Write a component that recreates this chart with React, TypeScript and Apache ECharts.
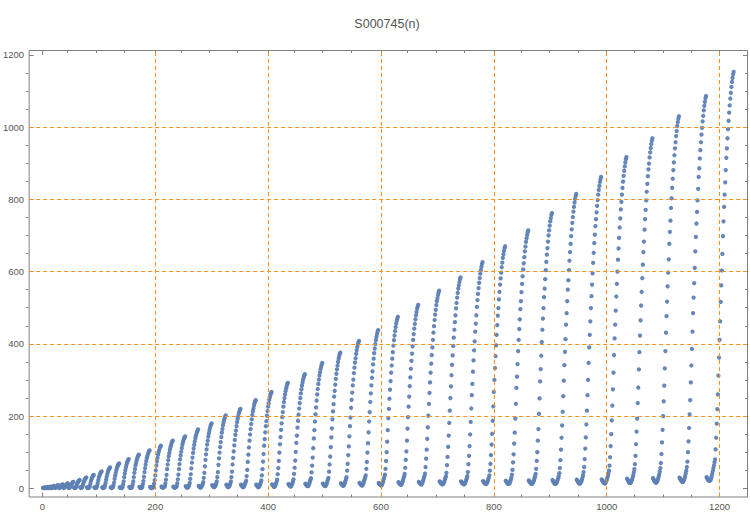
import React, { useEffect, useRef } from "react";
import * as echarts from "echarts";

// Values, one array per sweep (triangle row k has k terms)
const rows: number[][] = [
  [1],
  [1, 2],
  [1, 1, 3],
  [1, 1, 2, 4],
  [1, 1, 2, 3, 5],
  [1, 1, 2, 4, 6, 7],
  [2, 1, 2, 4, 6, 8, 9],
  [2, 1, 2, 4, 6, 8, 10, 11],
  [2, 1, 2, 4, 6, 9, 11, 13, 14],
  [2, 1, 2, 3, 6, 9, 12, 15, 17, 18],
  [2, 1, 2, 2, 5, 10, 14, 17, 20, 22, 23],
  [3, 1, 2, 2, 5, 11, 16, 20, 24, 27, 29, 30],
  [3, 1, 1, 2, 2, 6, 13, 20, 25, 29, 33, 36, 37],
  [3, 1, 1, 2, 2, 7, 14, 22, 29, 34, 39, 43, 45, 47],
  [3, 1, 1, 2, 3, 8, 15, 24, 32, 39, 45, 50, 53, 56, 58],
  [3, 1, 1, 2, 3, 8, 16, 26, 35, 43, 50, 56, 60, 64, 67, 69],
  [3, 2, 1, 1, 2, 3, 10, 19, 31, 41, 50, 58, 65, 71, 75, 79, 81],
  [4, 2, 1, 1, 2, 4, 10, 19, 31, 43, 53, 63, 70, 77, 83, 87, 91, 93],
  [4, 2, 1, 1, 2, 4, 11, 20, 32, 45, 56, 66, 75, 83, 89, 95, 99, 103, 105],
  [4, 2, 1, 1, 2, 3, 5, 13, 23, 36, 50, 63, 74, 84, 93, 100, 106, 112, 115, 118],
  [5, 3, 2, 2, 3, 4, 6, 14, 24, 37, 53, 66, 78, 89, 98, 107, 114, 120, 126, 129, 132],
  [5, 3, 2, 2, 3, 4, 6, 14, 25, 38, 53, 67, 80, 91, 101, 111, 120, 127, 133, 138, 141, 144],
  [6, 4, 2, 2, 3, 5, 8, 15, 26, 39, 55, 71, 85, 98, 110, 120, 129, 138, 145, 151, 156, 160, 163],
  [7, 5, 3, 2, 3, 5, 8, 11, 17, 29, 43, 61, 79, 94, 108, 121, 132, 143, 152, 160, 167, 173, 177, 180],
  [9, 7, 5, 3, 4, 6, 9, 13, 19, 31, 45, 65, 83, 99, 114, 128, 142, 154, 164, 174, 182, 189, 194, 199, 202],
  [10, 7, 5, 3, 4, 6, 9, 13, 19, 31, 46, 66, 84, 102, 119, 134, 148, 160, 172, 183, 192, 199, 207, 212, 217, 220],
  [10, 8, 6, 4, 3, 5, 8, 12, 16, 21, 34, 51, 73, 93, 113, 132, 149, 164, 178, 191, 203, 213, 221, 229, 236, 241, 244],
  [10, 8, 6, 4, 3, 5, 8, 12, 16, 22, 36, 53, 74, 95, 118, 136, 155, 172, 186, 201, 214, 226, 235, 245, 252, 259, 263, 267],
  [11, 9, 7, 5, 4, 6, 9, 13, 18, 24, 39, 56, 76, 99, 122, 142, 162, 180, 197, 211, 226, 239, 250, 260, 269, 277, 283, 289, 292],
  [12, 10, 8, 6, 5, 7, 10, 14, 19, 25, 40, 57, 77, 101, 126, 146, 168, 187, 204, 221, 236, 250, 263, 274, 284, 293, 301, 307, 312, 316],
  [13, 11, 9, 7, 6, 7, 10, 14, 19, 24, 28, 44, 63, 85, 111, 138, 161, 185, 205, 224, 243, 260, 275, 289, 301, 312, 321, 330, 337, 343, 347],
  [13, 11, 9, 7, 6, 7, 10, 14, 19, 25, 29, 46, 66, 88, 114, 141, 166, 191, 213, 233, 254, 270, 287, 303, 317, 329, 340, 350, 359, 366, 372, 376],
  [14, 12, 10, 8, 7, 8, 11, 15, 20, 26, 31, 49, 68, 92, 116, 144, 172, 196, 223, 245, 265, 285, 301, 319, 334, 348, 360, 372, 382, 391, 398, 404, 408],
  [15, 13, 11, 9, 8, 8, 11, 15, 20, 25, 30, 36, 54, 73, 99, 125, 155, 185, 211, 239, 263, 285, 306, 324, 343, 359, 374, 387, 399, 410, 419, 427, 434, 438],
  [15, 13, 11, 9, 8, 8, 11, 15, 20, 26, 32, 38, 54, 76, 100, 129, 161, 194, 220, 248, 273, 297, 320, 340, 359, 377, 395, 410, 423, 435, 446, 456, 464, 470, 475],
  [17, 15, 13, 11, 10, 10, 13, 17, 22, 28, 33, 40, 57, 79, 102, 132, 165, 197, 226, 254, 283, 307, 331, 353, 373, 393, 411, 427, 442, 455, 468, 479, 488, 497, 503, 508],
  [18, 16, 14, 12, 11, 11, 14, 18, 23, 29, 34, 41, 59, 82, 107, 137, 169, 201, 234, 264, 293, 320, 345, 369, 390, 411, 431, 449, 466, 481, 494, 507, 518, 526, 535, 542, 547],
  [19, 17, 15, 13, 12, 11, 12, 14, 18, 23, 28, 33, 43, 64, 87, 115, 146, 181, 215, 250, 282, 313, 342, 368, 394, 417, 439, 460, 479, 498, 513, 528, 541, 553, 562, 571, 579, 584],
  [19, 17, 15, 13, 12, 11, 12, 14, 18, 23, 28, 34, 45, 67, 90, 117, 149, 184, 221, 258, 289, 323, 354, 382, 407, 434, 456, 479, 502, 521, 538, 554, 569, 582, 594, 604, 613, 621, 626],
  [20, 18, 16, 14, 13, 12, 13, 15, 19, 24, 29, 36, 49, 68, 92, 121, 151, 187, 227, 267, 300, 333, 366, 396, 425, 452, 478, 499, 523, 544, 564, 581, 597, 612, 625, 638, 648, 657, 665, 670],
  [21, 19, 16, 14, 13, 12, 13, 15, 19, 24, 30, 38, 51, 72, 94, 124, 154, 193, 234, 278, 309, 344, 380, 411, 441, 468, 496, 518, 543, 566, 587, 606, 623, 640, 656, 669, 682, 692, 701, 709, 714],
  [22, 19, 17, 15, 13, 12, 13, 15, 18, 22, 27, 33, 40, 54, 76, 100, 132, 164, 206, 249, 296, 330, 367, 405, 439, 470, 499, 529, 553, 579, 604, 627, 647, 665, 683, 700, 714, 727, 739, 748, 757, 762],
  [23, 20, 17, 15, 13, 12, 13, 15, 18, 23, 28, 34, 42, 56, 78, 107, 140, 174, 212, 255, 298, 341, 378, 413, 453, 485, 518, 550, 576, 604, 630, 654, 677, 698, 717, 735, 751, 766, 779, 791, 801, 809, 815],
  [24, 21, 18, 16, 14, 13, 14, 16, 19, 24, 29, 36, 45, 59, 81, 110, 141, 177, 215, 258, 300, 347, 390, 425, 462, 499, 532, 564, 595, 624, 652, 679, 702, 726, 745, 764, 782, 798, 813, 826, 837, 848, 856, 862],
  [25, 22, 19, 17, 15, 14, 14, 16, 19, 23, 28, 34, 41, 49, 63, 86, 117, 150, 188, 229, 274, 320, 369, 415, 453, 492, 531, 566, 600, 633, 664, 693, 722, 747, 772, 793, 813, 832, 849, 865, 879, 891, 902, 911, 917],
  [27, 24, 21, 18, 16, 15, 15, 17, 20, 24, 30, 36, 44, 53, 67, 90, 122, 157, 193, 236, 279, 329, 377, 423, 465, 506, 544, 582, 619, 654, 683, 716, 745, 771, 797, 821, 843, 864, 883, 899, 916, 930, 942, 953, 962, 969],
  [28, 25, 22, 19, 17, 16, 16, 18, 21, 26, 32, 38, 46, 56, 70, 95, 127, 162, 200, 241, 284, 332, 380, 431, 477, 517, 559, 597, 634, 677, 710, 741, 776, 803, 832, 857, 881, 902, 922, 941, 958, 975, 989, 1003, 1014, 1023, 1030],
  [30, 27, 24, 21, 19, 18, 18, 20, 23, 28, 34, 41, 49, 59, 74, 100, 130, 167, 205, 244, 293, 340, 386, 434, 485, 528, 568, 610, 656, 696, 733, 765, 797, 829, 862, 886, 913, 936, 958, 979, 998, 1016, 1031, 1046, 1059, 1070, 1080, 1086],
  [31, 28, 25, 23, 22, 21, 21, 23, 27, 33, 40, 47, 55, 63, 72, 80, 108, 140, 179, 219, 260, 312, 362, 411, 462, 516, 562, 603, 649, 698, 739, 779, 813, 847, 881, 915, 941, 969, 994, 1017, 1040, 1060, 1079, 1095, 1111, 1125, 1136, 1146, 1153],
];

const titleText = "S000745(n)";
const xLabelValues = [0, 200, 400, 600, 800, 1000, 1200];
const yLabelValues = [0, 200, 400, 600, 800, 1000, 1200];
const xMinorTicks = [50, 100, 150, 250, 300, 350, 450, 500, 550, 650, 700, 750, 850, 900, 950, 1050, 1100, 1150];
const yMinorTicks = [50, 100, 150, 250, 300, 350, 450, 500, 550, 650, 700, 750, 850, 900, 950, 1050, 1100, 1150];
const xGridValues = [200, 400, 600, 800, 1000, 1200];
const yGridValues = [200, 400, 600, 800, 1000];

const X_MIN = -23.5;
const X_MAX = 1249.5;
const Y_MIN = -24;
const Y_MAX = 1212;

const FRAME = "#808080";
const LABEL = "#555555";
const ORANGE = "#f7901e";
const POINT = "#5e81b5";
const FONT = "Liberation Sans, Arial, sans-serif";

const GRID_RECT = { left: 26, right: 2.5, top: 50.5, bottom: 17 };

export default function App() {
  const ref = useRef<HTMLDivElement>(null);

  useEffect(() => {
    document.body.style.margin = "0";
    if (!ref.current) return;
    const chart = echarts.init(ref.current, null, { renderer: "svg" });

    const points: number[][] = [];
    let n = 1;
    rows.forEach((r) =>
      r.forEach((v) => {
        points.push([n, v]);
        n += 1;
      })
    );

    const plain = (v: number) => String(v);

    const xAxis = (gridIndex: number, position: "top" | "bottom", ticks: number[], len: number, labels: boolean) => ({
      type: "value" as const,
      gridIndex,
      position,
      min: X_MIN,
      max: X_MAX,
      axisLine: { show: false, onZero: false },
      splitLine: { show: false },
      axisTick: { show: true, inside: true, length: len, customValues: ticks, lineStyle: { color: FRAME, width: 1 } },
      axisLabel: labels
        ? { show: true, customValues: xLabelValues, formatter: plain, color: LABEL, fontSize: 9.5, fontFamily: FONT, margin: 4 }
        : { show: false },
    });
    const yAxis = (gridIndex: number, position: "left" | "right", ticks: number[], len: number, labels: boolean) => ({
      type: "value" as const,
      gridIndex,
      position,
      min: Y_MIN,
      max: Y_MAX,
      axisLine: { show: false, onZero: false },
      splitLine: { show: false },
      axisTick: { show: true, inside: true, length: len, customValues: ticks, lineStyle: { color: FRAME, width: 1 } },
      axisLabel: labels
        ? { show: true, customValues: yLabelValues, formatter: plain, color: LABEL, fontSize: 9.5, fontFamily: FONT, margin: 5 }
        : { show: false },
    });

    chart.setOption({
      animation: false,
      grid: [
        { ...GRID_RECT, show: true, borderColor: FRAME, borderWidth: 1, backgroundColor: "transparent" },
        { ...GRID_RECT, show: false },
      ],
      graphic: [
        {
          type: "text",
          x: 387,
          y: 24,
          style: {
            text: titleText,
            fill: LABEL,
            font: `12.5px ${FONT}`,
            textAlign: "center",
            textVerticalAlign: "middle",
          },
        },
      ],
      xAxis: [
        xAxis(0, "bottom", xLabelValues, 4.5, true),
        xAxis(0, "top", xLabelValues, 4.5, false),
        xAxis(1, "bottom", xMinorTicks, 2.5, false),
        xAxis(1, "top", xMinorTicks, 2.5, false),
      ],
      yAxis: [
        yAxis(0, "left", yLabelValues, 4.5, true),
        yAxis(0, "right", yLabelValues, 4.5, false),
        yAxis(1, "left", yMinorTicks, 2.5, false),
        yAxis(1, "right", yMinorTicks, 2.5, false),
      ],
      series: [
        {
          type: "line",
          data: [],
          xAxisIndex: 0,
          yAxisIndex: 0,
          z: 1,
          silent: true,
          markLine: {
            silent: true,
            symbol: "none",
            label: { show: false },
            lineStyle: { color: ORANGE, type: [4, 3], width: 1 },
            data: [
              ...xGridValues.map((v) => ({ xAxis: v })),
              ...yGridValues.map((v) => ({ yAxis: v })),
            ],
          },
        },
        {
          type: "scatter",
          name: titleText,
          data: points,
          xAxisIndex: 0,
          yAxisIndex: 0,
          z: 3,
          symbol: "circle",
          symbolSize: 4.3,
          itemStyle: { color: POINT, opacity: 0.95 },
        },
      ],
    });

    return () => chart.dispose();
  }, []);

  return (
    <div
      ref={ref}
      style={{ width: 750, height: 514, position: "absolute", left: 0, top: 0 }}
    />
  );
}
